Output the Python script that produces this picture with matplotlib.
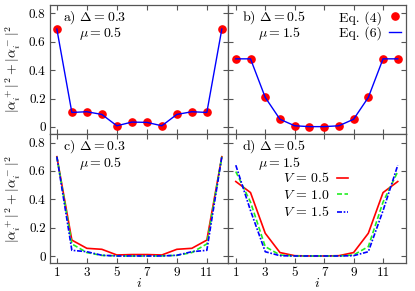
import matplotlib
matplotlib.use("Agg")
import matplotlib.pyplot as plt

plt.rcParams['font.family'] = 'serif'
plt.rcParams['font.serif'] = ['cmr10']
plt.rcParams['mathtext.fontset'] = 'cm'
plt.rcParams['axes.formatter.use_mathtext'] = True

# sitios de la cadena
sitios = list(range(1, 13))

# a) Delta = 0.3, mu = 0.5
a_eq4 = [0.69, 0.102, 0.107, 0.088, 0.008, 0.034, 0.032, 0.008, 0.088, 0.107, 0.102, 0.69]
a_eq6 = [0.69, 0.102, 0.107, 0.088, 0.008, 0.034, 0.032, 0.008, 0.088, 0.107, 0.102, 0.69]

# b) Delta = 0.5, mu = 1.5
b_eq4 = [0.48, 0.48, 0.208, 0.054, 0.008, 0.002, 0.002, 0.008, 0.054, 0.208, 0.48, 0.48]
b_eq6 = [0.48, 0.48, 0.208, 0.054, 0.008, 0.002, 0.002, 0.008, 0.054, 0.208, 0.48, 0.48]

# c) Delta = 0.3, mu = 0.5, distintos V
c_v05 = [0.70, 0.112, 0.054, 0.047, 0.007, 0.01, 0.01, 0.007, 0.047, 0.054, 0.112, 0.70]
c_v10 = [0.70, 0.085, 0.024, 0.004, 0.001, 0.0, 0.0, 0.001, 0.004, 0.024, 0.085, 0.70]
c_v15 = [0.70, 0.04, 0.03, 0.005, 0.0, 0.0, 0.0, 0.0, 0.005, 0.03, 0.04, 0.70]

# d) Delta = 0.5, mu = 1.5, distintos V
d_v05 = [0.525, 0.447, 0.16, 0.024, 0.002, 0.0, 0.0, 0.002, 0.024, 0.16, 0.447, 0.525]
d_v10 = [0.595, 0.38, 0.066, 0.007, 0.0, 0.0, 0.0, 0.0, 0.007, 0.066, 0.38, 0.595]
d_v15 = [0.64, 0.32, 0.03, 0.002, 0.0, 0.0, 0.0, 0.0, 0.002, 0.03, 0.32, 0.64]

etiquetas_v = ['$V\\, =\\, 0.5$', '$V\\, =\\, 1.0$', '$V\\, =\\, 1.5$']
yticks = [0, 0.2, 0.4, 0.6, 0.8]
ytick_labels = ['0', '0.2', '0.4', '0.6', '0.8']
xticks = [1, 3, 5, 7, 9, 11]

rojo = '#ff0000'
verde = '#22ee22'
azul = '#0000ff'
gris = '#555555'
fs = 10

fig, axs = plt.subplots(2, 2, figsize=(4.15, 2.91), dpi=100)
fig.subplots_adjust(left=0.120, right=0.978, top=0.983, bottom=0.096, wspace=0, hspace=0)

for fila in range(2):
    for col in range(2):
        ax = axs[fila, col]
        ax.set_ylim(-0.05, 0.86)
        if col == 0:
            ax.set_xlim(0.53, 12.4)
        else:
            ax.set_xlim(0.46, 12.55)
        ax.set_yticks(yticks)
        ax.set_xticks(xticks)
        ax.tick_params(direction='in', top=True, right=True, length=3.5,
                       color=gris, labelsize=9.5, pad=3)
        for s in ax.spines.values():
            s.set_color(gris)
            s.set_linewidth(0.9)
        if col == 0:
            ax.set_yticklabels(ytick_labels)
            ax.set_ylabel(r'$|\alpha_i^+|^2+|\alpha_i^-|^2$', fontsize=fs, labelpad=4)
        else:
            ax.set_yticklabels([])
        if fila == 0:
            ax.set_xticklabels([])
        else:
            ax.set_xticklabels([str(t) for t in xticks])
            ax.set_xlabel('$i$', fontsize=fs, labelpad=-1.5)

# panel a
ax = axs[0, 0]
ax.plot(sitios, a_eq4, 'o', color=rojo, ms=5.2, zorder=2)
ax.plot(sitios, a_eq6, '-', color=azul, lw=1.0, zorder=3)
ax.text(0.072, 0.90, r'a) $\Delta = 0.3$', transform=ax.transAxes, fontsize=fs, va='center')
ax.text(0.165, 0.775, r'$\mu = 0.5$', transform=ax.transAxes, fontsize=fs, va='center')

# panel b
ax = axs[0, 1]
ax.plot(sitios, b_eq4, 'o', color=rojo, ms=5.2, zorder=2, label='Eq. (4)')
ax.plot(sitios, b_eq6, '-', color=azul, lw=1.0, zorder=3, label='Eq. (6)')
ax.text(0.078, 0.90, r'b) $\Delta = 0.5$', transform=ax.transAxes, fontsize=fs, va='center')
ax.text(0.17, 0.775, r'$\mu = 1.5$', transform=ax.transAxes, fontsize=fs, va='center')
ax.legend(loc='upper right', bbox_to_anchor=(0.97, 0.955), markerfirst=False, frameon=False,
          fontsize=fs, handlelength=0.8, handletextpad=0.5, labelspacing=0.12,
          borderaxespad=0.0, borderpad=0.0)

# panel c
ax = axs[1, 0]
ax.plot(sitios, c_v05, '-', color=rojo, lw=1.2)
ax.plot(sitios, c_v10, '--', color=verde, lw=1.2, dashes=(3, 1.5))
ax.plot(sitios, c_v15, '-.', color=azul, lw=1.2, dashes=(3, 1, 1, 1))
ax.text(0.072, 0.90, r'c) $\Delta = 0.3$', transform=ax.transAxes, fontsize=fs, va='center')
ax.text(0.165, 0.775, r'$\mu = 0.5$', transform=ax.transAxes, fontsize=fs, va='center')

# panel d
ax = axs[1, 1]
ax.plot(sitios, d_v05, '-', color=rojo, lw=1.2, label=etiquetas_v[0])
ax.plot(sitios, d_v10, '--', color=verde, lw=1.2, dashes=(3, 1.5), label=etiquetas_v[1])
ax.plot(sitios, d_v15, '-.', color=azul, lw=1.2, dashes=(3, 1, 1, 1), label=etiquetas_v[2])
ax.text(0.078, 0.90, r'd) $\Delta = 0.5$', transform=ax.transAxes, fontsize=fs, va='center')
ax.text(0.17, 0.775, r'$\mu = 1.5$', transform=ax.transAxes, fontsize=fs, va='center')
ax.legend(loc='upper right', bbox_to_anchor=(0.675, 0.71), markerfirst=False, frameon=False,
          fontsize=fs, handlelength=0.8, handletextpad=0.5, labelspacing=0.25,
          borderaxespad=0.0, borderpad=0.0)

fig.savefig('out.png', dpi=100)
